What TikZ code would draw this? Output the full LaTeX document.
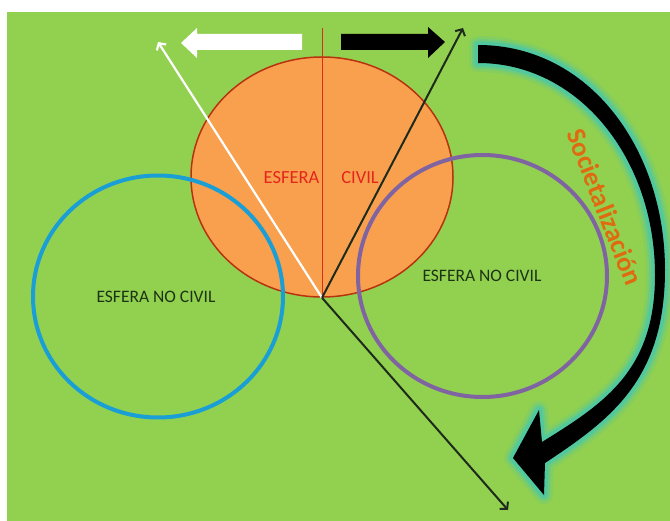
\documentclass[tikz,border=0pt]{standalone}
\usepackage{fontspec}
\setmainfont{Carlito}
\usetikzlibrary{arrows.meta,shapes.geometric}
\definecolor{bggreen}{HTML}{92D050}
\definecolor{orangefill}{HTML}{F9A04E}
\definecolor{orangeedge}{HTML}{B8320F}
\definecolor{bluering}{HTML}{1A9ED6}
\definecolor{purplering}{HTML}{8064A2}
\definecolor{redtext}{HTML}{E3261C}
\definecolor{redline}{HTML}{D9301E}
\definecolor{darktext}{HTML}{1C3414}
\definecolor{darkline}{HTML}{1E2A1C}
\definecolor{glowcol}{HTML}{4FC8A2}
\definecolor{socorange}{HTML}{DF6A10}
\newcommand\curvedarrowpath{(478,45) .. controls (590,45) and (665,150) .. (665,270) .. controls (665,380) and (610,420) .. (545,463) -- (544,495) -- (513,458) -- (539,410) -- (542,442) .. controls (605,403) and (655,370) .. (655,275) .. controls (655,160) and (580,63) .. (478,63) -- cycle}
\begin{document}
\begin{tikzpicture}[x=1pt,y=-1pt,
  ring/.style={ellipse, inner sep=0pt, line width=4pt},
  civilshape/.style={ellipse, inner sep=0pt, fill=orangefill, draw=orangeedge, line width=1.5pt,
    minimum width=262pt, minimum height=240pt},
  ringlabel/.style={text=darktext, font=\fontsize{17.5}{20}\selectfont, inner sep=0pt},
  redlabel/.style={text=redtext, font=\fontsize{18.5}{21}\selectfont, inner sep=0pt},
  whiteline/.style={draw=white, line width=2.2pt, -{Straight Barb[length=5pt,width=11pt]}},
  darkarrow/.style={draw=darkline, line width=2pt, -{Straight Barb[length=5pt,width=11pt]}},
  socfont/.style={font=\fontsize{27}{31}\selectfont\bfseries, inner sep=0pt, rotate=-68.5}
  ]
\useasboundingbox (0,0) rectangle (670,521);
\fill[white] (0,0) rectangle (670,521);
\fill[bggreen] (7,12) rectangle (670,521);

% central sphere
\node[civilshape] (civil) at (322,177) {};
\coordinate (redtop) at (322,28);
\draw[redline, line width=1pt] (redtop) -- (civil.south);

% block arrows
\fill[white] (302,34) -- (197,34) -- (197,28) -- (181,43) -- (197,58) -- (197,50) -- (302,50) -- cycle;
\fill[black] (341,34) -- (428,34) -- (428,27) -- (445,42) -- (428,58) -- (428,50) -- (341,50) -- cycle;

% vectors
\coordinate (wtip) at (158,42);
\coordinate (btip) at (463,28);
\coordinate (dtip) at (508,510);
\draw[whiteline] (civil.south) -- (wtip);
\draw[darkarrow] (civil.south) -- (btip);
\draw[darkarrow] (civil.south) -- (dtip);

% rings
\node[ring, draw=bluering, minimum width=250pt, minimum height=242pt] (left) at (158,296.5) {};
\node[ring, draw=purplering, minimum width=249pt, minimum height=242pt] (right) at (482.5,276) {};

% labels
\node[redlabel] (esf) at (291.5,178) {ESFERA};
\node[redlabel] (civ) at (360,178) {CIVIL};
\node[ringlabel] (leftlbl) at (156,297) {ESFERA NO CIVIL};
\node[ringlabel] (rightlbl) at (482,276) {ESFERA NO CIVIL};

% curved societalization arrow with glow
\draw[glowcol, line width=18pt, opacity=0.2, line join=round] \curvedarrowpath;
\draw[glowcol, line width=12pt, opacity=0.45, line join=round] \curvedarrowpath;
\draw[glowcol, line width=7pt, opacity=0.9, line join=round] \curvedarrowpath;
\fill[black] \curvedarrowpath;

\node[socfont, text=socorange] (soc) at (605,207) {Societalización};
\end{tikzpicture}
\end{document}
